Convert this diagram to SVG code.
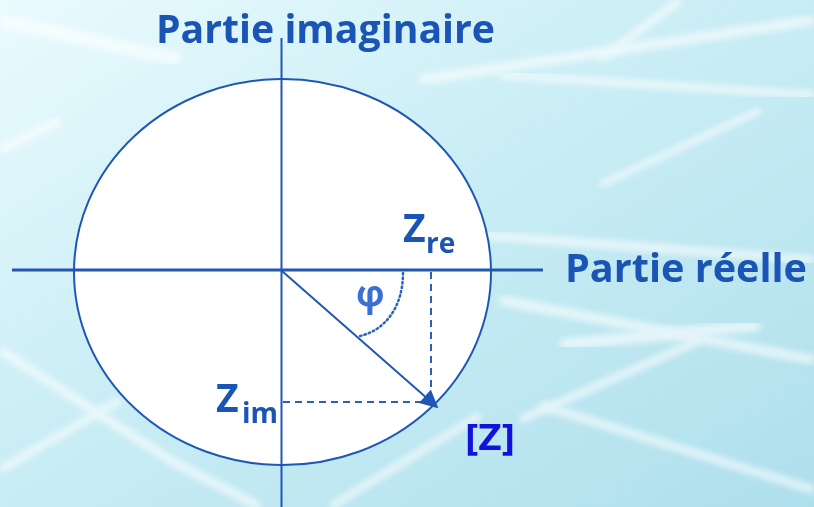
<svg xmlns="http://www.w3.org/2000/svg" width="814" height="507" viewBox="0 0 814 507">
  <defs>
    <linearGradient id="bg" x1="0" y1="0" x2="1" y2="1">
      <stop offset="0" stop-color="#eafbfe"/>
      <stop offset="0.4" stop-color="#cdeff6"/>
      <stop offset="1" stop-color="#aedfec"/>
    </linearGradient>
    <filter id="soft" x="-10%" y="-10%" width="120%" height="120%">
      <feGaussianBlur stdDeviation="3"/>
    </filter>
    <marker id="arrow" viewBox="0 0 10 10" refX="9" refY="5" markerWidth="9" markerHeight="9" markerUnits="strokeWidth" orient="auto">
      <path d="M0,0 L10,5 L0,10 z" fill="#1f57b5"/>
    </marker>
    <style>
      .axis { stroke: #1f57b5; fill: none; }
      .dash { stroke: #2a5fba; stroke-width: 2; stroke-dasharray: 7 5; fill: none; }
      .lbl { font-family: "Open Sans", "DejaVu Sans", sans-serif; font-weight: bold; fill: #1a55b5; }
      .streak { stroke: #ffffff; fill: none; filter: url(#soft); }
    </style>
  </defs>

  <!-- background -->
  <rect x="0" y="0" width="814" height="507" fill="url(#bg)"/>
  <g opacity="0.6">
    <path class="streak" stroke-width="10" d="M420,80 L814,20"/>
    <path class="streak" stroke-width="8" d="M500,75 L814,95"/>
    <path class="streak" stroke-width="7" d="M600,185 L760,110"/>
    <path class="streak" stroke-width="9" d="M480,235 L814,260"/>
    <path class="streak" stroke-width="10" d="M500,300 L814,360"/>
    <path class="streak" stroke-width="12" d="M560,345 L760,325"/>
    <path class="streak" stroke-width="8" d="M520,420 L700,340"/>
    <path class="streak" stroke-width="9" d="M540,405 L814,490"/>
    <path class="streak" stroke-width="8" d="M330,507 L480,415"/>
    <path class="streak" stroke-width="9" d="M0,350 L170,460 L260,507"/>
    <path class="streak" stroke-width="14" d="M0,20 L180,60"/>
    <path class="streak" stroke-width="10" d="M0,150 L60,120"/>
    <path class="streak" stroke-width="8" d="M680,0 L600,60"/>
    <path class="streak" stroke-width="8" d="M0,470 L120,400"/>
  </g>

  <!-- circle -->
  <g id="circle">
    <ellipse cx="282.5" cy="272" rx="208.5" ry="193" fill="#ffffff" stroke="#1f57b5" stroke-width="2"/>
  </g>

  <!-- connectors -->
  <g id="connectors">
    <line class="axis" x1="12" y1="270" x2="543" y2="270" stroke-width="3"/>
    <line class="axis" x1="281.5" y1="38" x2="281.5" y2="507" stroke-width="2"/>
    <line class="dash" x1="431" y1="272" x2="431" y2="400"/>
    <line class="dash" x1="283" y1="402" x2="428" y2="402"/>
    <line x1="282" y1="271" x2="437" y2="407" stroke="#1f57b5" stroke-width="2" marker-end="url(#arrow)"/>
    <path d="M403,273 C403,306 386,330 360,336" fill="none" stroke="#2a62c4" stroke-width="2.5" stroke-dasharray="1.5 3" stroke-linecap="round"/>
  </g>

  <!-- labels -->
  <g id="label-imag">
    <text class="lbl" x="156" y="43" font-size="40" textLength="339" lengthAdjust="spacingAndGlyphs">Partie imaginaire</text>
  </g>
  <g id="label-real">
    <text class="lbl" x="565" y="282" font-size="40" textLength="242" lengthAdjust="spacingAndGlyphs">Partie réelle</text>
  </g>
  <g id="label-zre">
    <text class="lbl" x="403" y="242" font-size="39">Z</text>
    <text class="lbl" x="426" y="253" font-size="28">re</text>
  </g>
  <g id="label-zim">
    <text class="lbl" x="216" y="412" font-size="39">Z</text>
    <text class="lbl" x="242" y="423" font-size="28">im</text>
  </g>
  <g id="label-phi">
    <text class="lbl" x="356" y="306" font-size="36" style="fill:#3a6fd6">φ</text>
  </g>
  <g id="label-z">
    <text class="lbl" x="465" y="450" font-size="35" textLength="50" lengthAdjust="spacingAndGlyphs" style="fill:#1212dd">[Z]</text>
  </g>
</svg>
